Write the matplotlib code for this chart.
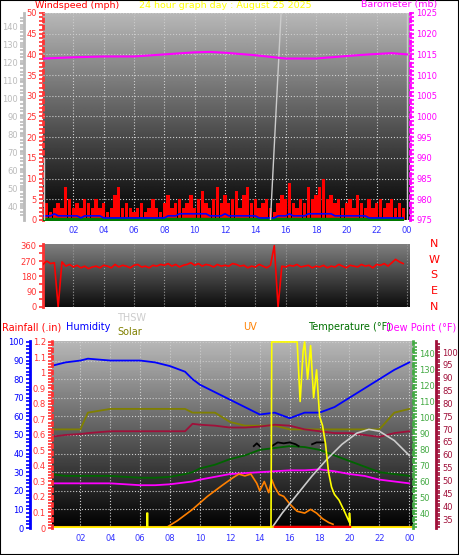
import numpy as np
import matplotlib.pyplot as plt

# --- data ---
hours_q = np.arange(96) / 4.0  # quarter-hour samples
wind_gust = [3, 4, 2, 3, 4, 3, 8, 5, 3, 4, 3, 5, 4, 3, 5, 3, 4, 2, 3, 6, 8, 3, 4, 3,
             2, 3, 4, 2, 3, 5, 3, 2, 4, 6, 3, 4, 5, 3, 4, 6, 3, 5, 7, 4, 3, 5, 8, 4,
             6, 4, 5, 7, 3, 6, 8, 4, 5, 3, 4, 5, 3, 2, 4, 6, 5, 9, 4, 3, 5, 4, 8, 5,
             6, 8, 10, 5, 6, 4, 5, 3, 4, 5, 3, 6, 4, 3, 5, 3, 4, 5, 3, 4, 5, 3, 4, 3]
wind_avg = [1, 1, 1, 1.5, 1, 1, 1, 1, 1, 1, 0.5, 1, 1, 1, 1, 1, 0.5, 0.5, 0.5, 0.5, 0.5, 0.5, 0.5, 0.5,
            0.5, 0.5, 0.5, 0.5, 0.5, 0.5, 0.5, 0.5, 0.5, 1, 1, 1, 1.5, 1.5, 1.5, 1.5, 1.5, 1.5, 1.5, 1.5, 1, 1, 1, 1,
            1.5, 1, 1, 1, 1, 1, 1, 1, 1, 0.5, 0.5, 0.5, 0.5, 0.5, 1, 1, 1, 1.5, 1, 1, 1, 1, 1.5, 1.5,
            1.5, 1.5, 1.5, 1.5, 1.5, 1, 1, 1, 1, 1, 1, 1, 1, 1, 0.5, 0.5, 0.5, 0.5, 0.5, 0.5, 0.5, 0.5, 0.5, 0.5]
wind_dir = [250, 270, 255, 260, 0, 265, 240, 250, 235, 245, 230, 240, 225, 235, 240, 230,
            245, 240, 230, 250, 235, 245, 240, 230, 245, 250, 235, 240, 230, 245, 240, 250,
            245, 255, 240, 250, 235, 245, 250, 260, 245, 255, 240, 250, 245, 235, 250, 240,
            245, 240, 255, 250, 240, 245, 230, 240, 235, 250, 240, 230, 245, 360, 0, 240,
            235, 245, 240, 250, 235, 240, 245, 230, 240, 235, 245, 230, 240, 235, 250, 240,
            230, 245, 240, 235, 250, 240, 245, 230, 250, 245, 255, 240, 260, 280, 265, 255]

hours_p = [0, 2, 4, 6, 8, 10, 11, 12, 14, 16, 18, 20, 21.5, 23, 24]
baro = [1014, 1014.3, 1014.5, 1014.5, 1015, 1015.5, 1015.6, 1015.4, 1014.8, 1014, 1014, 1014.6, 1015, 1015.3, 1015]

hours_h = [0, 1, 2, 2.5, 4, 6, 7, 8, 9, 9.5, 10, 11, 12, 13, 14, 15, 16, 17, 18, 19, 20, 21, 22, 23, 24]
humidity = [87, 89, 90, 91, 90, 90, 89, 87, 84, 80, 77, 73, 69, 65, 61, 62, 59, 62, 62, 65, 70, 75, 80, 85, 89]
solar = [53, 53, 53, 62, 64, 64, 64, 64, 64, 62, 62, 62, 57, 55, 55, 55, 53, 53, 53, 53, 53, 53, 53, 62, 64]
dew_line = [49, 50, 50.5, 51, 52, 52, 52, 52, 52, 56, 55.5, 55, 54, 54, 54.5, 55.5, 55, 53, 52, 51, 51, 50, 49, 51, 52]
temp_line = [29, 28, 28, 28, 28, 27, 27, 27.5, 29, 30, 32, 34, 37, 39, 42, 43, 44, 43.5, 42, 39, 36, 33, 30, 29, 28]
dew_low = [24, 24, 24, 24, 24, 23, 23, 23.5, 24.5, 25, 26, 27.5, 29, 29.5, 30, 30.5, 31, 31, 31.5, 30.5, 29, 28, 26, 25, 24]

hours_t = [13.6, 13.8, 14.0, np.nan, 14.8, 15.2, 15.6, 16.0, 16.4, 16.6, np.nan, 17.5, 17.8, 18.3]
thsw = [44, 45.5, 44, np.nan, 44, 46, 45.5, 46, 45, 44, np.nan, 45, 46, 46]

hours_uv = [7.9, 8.5, 9.5, 10.5, 11.5, 12.2, 12.6, 13.0, 13.4, 13.8, 14.0, 14.3, 14.6, 14.8, 15.0, 15.3,
            15.6, 16.0, 16.5, 17.0, 17.4, 17.8, 18.2, 18.6, 18.9]
uv = [1, 4, 10, 17, 23, 27, 29, 28, 29, 24, 20, 25, 19, 26, 22, 18, 17, 13, 9, 8, 10, 8, 5, 3, 2]

hours_y = [0, 6.45, 6.45, 6.5, 6.5, 14.75, 14.8, 16.5, 16.7, 16.9, 17.0, 17.2, 17.4, 17.6, 17.8, 18.0,
           18.2, 18.4, 18.6, 18.8, 19.0, 19.3, 19.6, 20.0, 20.0, 20.05, 24]
yellow = [0, 0, 8, 8, 0, 0, 100, 100, 68, 95, 100, 80, 98, 70, 85, 60, 55, 45, 30, 22, 18, 15, 10, 3, 8, 0, 0]

hours_g = [14.8, 15.5, 16.5, 17.5, 18.5, 19.5, 20.5, 21.3, 22, 23, 24]
thsw_gray = [0, 8, 18, 28, 37, 45, 51, 53, 52, 47, 39]

hour_ticks = [2, 4, 6, 8, 10, 12, 14, 16, 18, 20, 22, 24]
hour_labels = ['02', '04', '06', '08', '10', '12', '14', '16', '18', '20', '22', '00']

W, H = 459, 555
fig = plt.figure(figsize=(W / 100, H / 100), dpi=100)
fig.patch.set_facecolor('white')
fig.add_artist(plt.Rectangle((0, 0), 1, 1, transform=fig.transFigure, fill=False, ec='black', lw=1.5))
FS = 6
PX = 0.72  # points per pixel at 100 dpi


def box(l, t, r, b):
    return [l / W, 1 - b / H, (r - l) / W, (b - t) / H]


def backdrop(ax, top, bot):
    grad = np.linspace(top, bot, 256).reshape(-1, 1)
    x0, x1 = ax.get_xlim()
    y0, y1 = ax.get_ylim()
    ax.imshow(grad, aspect='auto', cmap='gray', vmin=0, vmax=1,
              extent=[x0, x1, y0, y1], zorder=0, origin='upper')


def style_axis(ax, color, side='left'):
    for s in ax.spines.values():
        s.set_visible(False)
    ax.spines[side].set_visible(True)
    ax.spines[side].set_color(color)
    ax.spines[side].set_linewidth(2)
    ax.tick_params(axis='y', colors=color, labelsize=FS, length=3, width=1.2, which='both', pad=1.5)
    ax.yaxis.set_ticks_position(side)


def time_axis(ax):
    ax.set_xticks(hour_ticks)
    ax.set_xticklabels(hour_labels)
    ax.tick_params(axis='x', colors='#3333ff', labelsize=FS, length=0, pad=4)
    ax.grid(True, color='#cccccc', ls=':', lw=0.8)


# ---------- top panel ----------
ax1 = fig.add_axes(box(43, 13, 410, 220))
ax1.set_xlim(0, 24.2)
ax1.set_ylim(0, 50)
backdrop(ax1, 0.72, 0.0)
ax1.bar(hours_q, wind_gust, width=0.22, color='#ff0000', zorder=3)
ax1.fill_between(hours_q, 0, 0.5, color='#007a00', zorder=3)
ax1.plot(hours_q, wind_avg, color='#0000ff', lw=1.2, zorder=4)
ax1.plot([15.0, 15.7], [0, 50], color='#cccccc', lw=1, zorder=4)
ax1.plot([0.05, 0.05], [0, 15], color='#cccccc', lw=1, zorder=4)
ax1.plot([24.0, 24.0], [0, 50], color='#cccccc', lw=1, zorder=4)
ax1.set_yticks(range(0, 51, 5))
ax1.set_yticks(range(0, 51, 1), minor=True)
style_axis(ax1, '#ff3333')
ax1.spines['left'].set_linestyle(':')
time_axis(ax1)
ax1.set_axisbelow(False)

axb = ax1.twinx()
axb.set_ylim(975, 1025)
axb.plot(hours_p, baro, color='#ff00ff', lw=1.5, zorder=5)
axb.set_yticks(range(975, 1026, 5))
axb.set_yticks(range(975, 1026, 1), minor=True)
style_axis(axb, '#ff00ff', 'right')
axb.spines['right'].set_linestyle(':')

axg = ax1.twinx()
axg.set_ylim(32.3, 147.7)
axg.set_yticks(range(40, 141, 10))
axg.set_yticks(range(35, 146, 2), minor=True)
style_axis(axg, '#bbbbbb', 'left')
axg.spines['left'].set_position(('outward', 19 * PX))

fig.text(35 / W, 1 - 5 / H, 'Windspeed (mph)', color='#ff0000', fontsize=6.8, va='center')
fig.text(0.49, 1 - 5 / H, '24 hour graph day : August 25 2025', color='#ffff00', fontsize=6.8, ha='center', va='center')
fig.text(437 / W, 1 - 5 / H, 'Barometer (mb)', color='#ff00ff', fontsize=6.8, ha='right', va='center')

# ---------- middle panel ----------
ax2 = fig.add_axes(box(43, 244, 410, 307))
ax2.set_xlim(0, 24.2)
ax2.set_ylim(0, 370)
backdrop(ax2, 0.5, 0.05)
ax2.plot(hours_q, wind_dir, color='#ff0000', lw=1.2, zorder=3)
ax2.set_yticks(range(0, 361, 90))
ax2.set_yticks(range(0, 361, 45), minor=True)
style_axis(ax2, '#ff3333')
ax2.set_xticks(hour_ticks)
ax2.tick_params(axis='x', length=0, labelbottom=False)
ax2.grid(True, axis='x', color='#999999', ls=':', lw=0.8)
for lab, y in zip(['N', 'W', 'S', 'E', 'N'], [244, 260, 275, 291, 307]):
    fig.text(434 / W, 1 - y / H, lab, color='#ff0000', fontsize=8, ha='center', va='center')

# ---------- bottom panel ----------
ax3 = fig.add_axes(box(52, 341, 413, 528))
ax3.set_xlim(0.1, 24.25)
ax3.set_ylim(0, 100.5)
backdrop(ax3, 0.72, 0.0)
ax3.plot(hours_h, humidity, color='#0000ff', lw=1.3, zorder=3)
ax3.plot(hours_h, solar, color='#808000', lw=1.3, zorder=3)
ax3.plot(hours_h, dew_line, color='#a0103a', lw=1.3, zorder=3)
ax3.plot(hours_h, temp_line, color='#006400', lw=1.3, zorder=3)
ax3.plot(hours_h, dew_low, color='#ff00ff', lw=1.3, zorder=3)
ax3.plot(hours_t, thsw, color='black', lw=1.3, zorder=3)
ax3.plot(hours_uv, uv, color='#ff8000', lw=1.2, zorder=3)
ax3.plot(hours_g, thsw_gray, color='#cccccc', lw=1.2, zorder=3)
ax3.plot(hours_y, yellow, color='#ffff00', lw=1.2, zorder=4)
ax3.plot([15, 20], [0.3, 0.3], color='#ff0000', lw=2.5, zorder=4)
ax3.plot([0.1, 24.25], [0.3, 0.3], color='#ffcc00', lw=1.5, zorder=3)
ax3.set_yticks(range(0, 101, 10))
ax3.set_yticks(range(0, 101, 2), minor=True)
style_axis(ax3, '#0000ff')
ax3.spines['left'].set_position(('outward', 22 * PX))
time_axis(ax3)

axr = ax3.twinx()
axr.set_ylim(0, 1.206)
rain_ticks = [0, 0.1, 0.2, 0.3, 0.4, 0.5, 0.6, 0.7, 0.8, 0.9, 1.0, 1.1, 1.2]
axr.set_yticks(rain_ticks)
axr.set_yticklabels(['0', '0.1', '0.2', '0.3', '0.4', '0.5', '0.6', '0.7', '0.8', '0.9', '1', '1.1', '1.2'])
axr.set_yticks(np.arange(0, 1.21, 0.02), minor=True)
style_axis(axr, '#ff3333', 'left')
axr.spines['left'].set_linestyle(':')

axt = ax3.twinx()
axt.set_ylim(31.3, 147.5)
axt.set_yticks(range(40, 141, 10))
axt.set_yticks(range(32, 147, 2), minor=True)
style_axis(axt, '#44aa44', 'right')
axt.spines['right'].set_linestyle(':')

axd = ax3.twinx()
axd.set_ylim(31.5, 104.3)
axd.set_yticks(range(35, 101, 5))
axd.set_yticks(range(32, 104, 1), minor=True)
style_axis(axd, '#a0103a', 'right')
axd.spines['right'].set_position(('outward', 23 * PX))

yl = 1 - 327 / H
fig.text(2 / W, yl, 'Rainfall (.in)', color='#ff0000', fontsize=7, va='center')
fig.text(66 / W, yl, 'Humidity', color='#0000ff', fontsize=7, va='center')
fig.text(117 / W, 1 - 318 / H, 'THSW', color='#cccccc', fontsize=7, va='center')
fig.text(117 / W, 1 - 332 / H, 'Solar', color='#808000', fontsize=7, va='center')
fig.text(243 / W, yl, 'UV', color='#ff8000', fontsize=7, va='center')
fig.text(308 / W, yl, 'Temperature (°F)', color='#007000', fontsize=7, va='center')
fig.text(456 / W, yl, 'Dew Point (°F)', color='#ff00ff', fontsize=7, ha='right', va='center')

fig.savefig('out.png', dpi=100)
